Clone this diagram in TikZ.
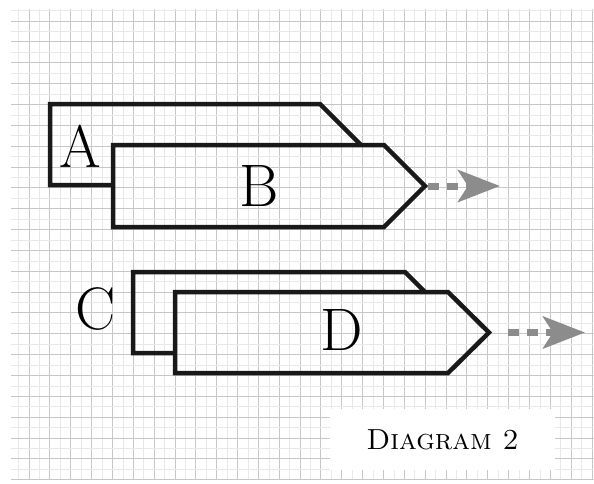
\documentclass[tikz,border=0pt]{standalone}
\usepackage{tikz}
\usetikzlibrary{arrows.meta}

\begin{document}
\begin{tikzpicture}[x=1pt, y=-1pt,
	every node/.style={inner sep=0pt},
	part/.style={line width=4.5pt, line join=miter, draw=black!90},
	flow/.style={line width=7pt, black!45, dash pattern=on 11pt off 8pt,
		-{Stealth[length=42pt, width=32pt, inset=10pt]}},
	letter/.style={font=\fontsize{60}{60}\selectfont}]
	\useasboundingbox[fill=white] (0,0) rectangle (594,483);
	% squared paper
	\begin{scope}
		\clip (11,9) rectangle (594,480);
		\foreach \i in {0,...,28} {
			\draw[black!9, line width=0.6pt] ({18.6+20.85*\i},9) -- ++(0,471);
			\draw[black!22, line width=0.9pt] ({29+20.85*\i},9) -- ++(0,471);
		}
		\foreach \j in {0,...,22} {
			\draw[black!9, line width=0.6pt] (11,{10.6+20.85*\j}) -- ++(583,0);
			\draw[black!22, line width=0.9pt] (11,{21+20.85*\j}) -- ++(583,0);
		}
	\end{scope}
	% upper pair
	\draw[part] (113,185) -- (50,185) -- (50,104) -- (320,104) -- (361,145);
	\draw[part] (113,145) -- (384,145) -- (425,186) -- (384,227) -- (113,227) -- cycle;
	\coordinate (btip) at (425,186);
	\coordinate (bend) at (500,186);
	\node[letter] (a) at (80,146) {A};
	\node[letter] (b) at (259,186) {B};
	\draw[flow, shorten <=3pt] (btip) -- (bend);
	% lower pair
	\draw[part] (175,353) -- (133,353) -- (133,272) -- (405,272) -- (425,292);
	\draw[part] (175,292) -- (448,292) -- (489,332.5) -- (448,373) -- (175,373) -- cycle;
	\coordinate (dtip) at (489,332.5);
	\coordinate (dend) at (585,332.5);
	\node[letter] (c) at (96,309) {C};
	\node[letter] (d) at (342,330) {D};
	\draw[flow, shorten <=19pt] (dtip) -- (dend);
	% caption
	\node[fill=white, minimum width=225pt, minimum height=61pt,
		font=\fontsize{29}{29}\selectfont] (caption) at (442.5,439.5) {\textsc{Diagram 2}};
\end{tikzpicture}
\end{document}
